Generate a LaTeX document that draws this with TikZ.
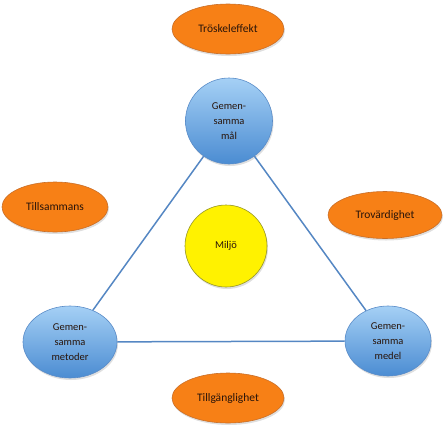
\documentclass[tikz,border=0pt]{standalone}
\usepackage{fontspec}
\setmainfont{Carlito}
\usetikzlibrary{shapes.geometric,shadows}
\definecolor{orfill}{RGB}{247,128,22}
\definecolor{ordraw}{RGB}{200,110,40}
\definecolor{bltop}{RGB}{165,208,245}
\definecolor{blbot}{RGB}{75,140,210}
\definecolor{bldraw}{RGB}{90,140,200}
\definecolor{linec}{RGB}{85,135,195}
\definecolor{txt}{RGB}{40,20,10}
\tikzset{
  orange/.style={ellipse, fill=orfill, draw=ordraw, line width=0.6pt, minimum width=112pt, minimum height=50pt, inner sep=0pt, text=txt, font=\fontsize{11.5}{13}\selectfont,
    drop shadow={shadow xshift=1pt, shadow yshift=-2pt, opacity=0.25}},
  bluec/.style={ellipse, top color=bltop, bottom color=blbot, draw=bldraw, line width=0.6pt, inner sep=0pt, align=center, text=txt, font=\fontsize{10.5}{15}\selectfont,
    drop shadow={shadow xshift=1pt, shadow yshift=-2pt, opacity=0.25}},
  link/.style={draw=linec, line width=1.5pt}
}
\begin{document}
\begin{tikzpicture}[x=1pt,y=-1pt]
\useasboundingbox (0,0) rectangle (445,432);
\node[orange] (trosk) at (228,29) {Tröskeleffekt};
\node[orange, minimum width=106pt] (tills) at (55,207) {Tillsammans};
\node[orange, minimum width=114pt, minimum height=47pt] (trov) at (385,215) {Trovärdighet};
\node[orange] (tillg) at (228,398) {Tillgänglighet};
\node[circle, fill=yellow, draw={rgb,255:red,150;green,150;blue,40}, line width=0.6pt, minimum size=82pt, inner sep=0pt, text=txt, font=\fontsize{10.5}{12}\selectfont,
  drop shadow={shadow xshift=1pt, shadow yshift=-2pt, opacity=0.25}] (milj) at (226,246) {Miljö};
\node[bluec, minimum width=87pt, minimum height=86pt] (mal) at (229,121) {Gemen-\\samma\\mål};
\node[bluec, minimum width=94pt, minimum height=72pt] (met) at (70,342) {Gemen-\\samma\\metoder};
\node[bluec, minimum width=86pt, minimum height=70pt] (med) at (388,341) {Gemen-\\samma\\medel};
\path[link] (mal) -- (met);
\path[link] (mal) -- (med);
\path[link] (met) -- (med);
\end{tikzpicture}
\end{document}
